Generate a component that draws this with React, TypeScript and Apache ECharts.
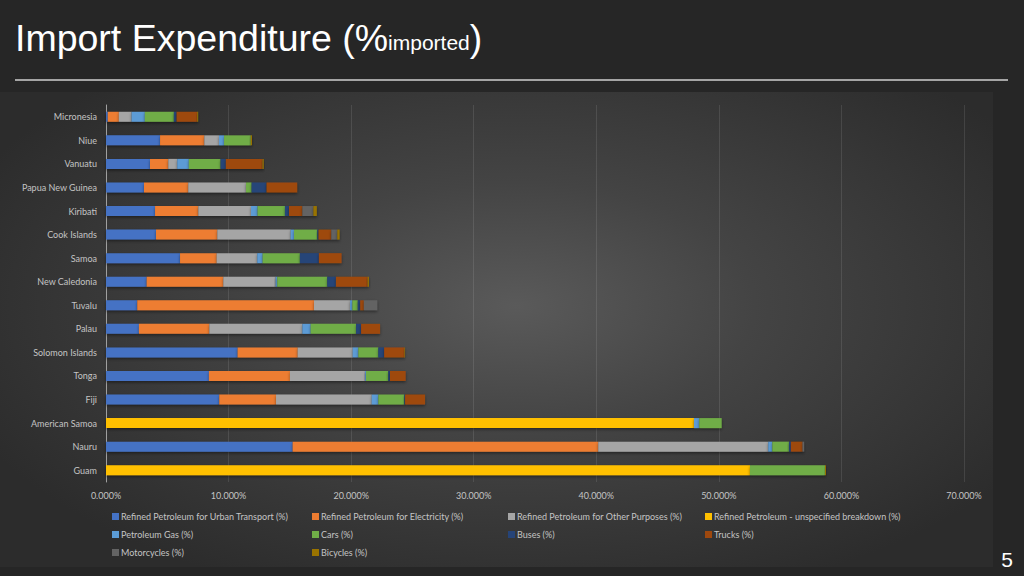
import React, { useEffect, useRef } from "react";
import * as echarts from "echarts";

const categories = [
  "Micronesia", "Niue", "Vanuatu", "Papua New Guinea", "Kiribati", "Cook Islands",
  "Samoa", "New Caledonia", "Tuvalu", "Palau", "Solomon Islands", "Tonga", "Fiji",
  "American Samoa", "Nauru", "Guam",
];

const urbanTransport = [0.15, 4.41, 3.59, 3.10, 4.00, 4.08, 6.04, 3.32, 2.55, 2.69, 10.74, 8.40, 9.24, 0, 15.23, 0];
const electricity = [0.90, 3.61, 1.49, 3.61, 3.53, 5.00, 2.99, 6.25, 14.42, 5.74, 4.90, 6.61, 4.63, 0, 24.93, 0];
const otherPurposes = [1.04, 1.20, 0.73, 4.71, 4.30, 5.99, 3.31, 4.27, 2.94, 7.59, 4.49, 6.12, 7.81, 0, 13.87, 0];
const unspecified = [0, 0, 0, 0, 0, 0, 0, 0, 0, 0, 0, 0, 0, 47.97, 0, 52.54];
const petroleumGas = [1.08, 0.41, 0.95, 0, 0.54, 0.27, 0.44, 0.13, 0.19, 0.68, 0.46, 0.08, 0.54, 0.43, 0.33, 0];
const cars = [2.37, 2.18, 2.59, 0.46, 2.23, 1.90, 3.04, 4.08, 0.44, 3.70, 1.63, 1.82, 2.12, 1.83, 1.36, 6.12];
const buses = [0.22, 0, 0.43, 1.22, 0.33, 0.10, 1.55, 0.71, 0.20, 0.41, 0.47, 0.14, 0.06, 0, 0.16, 0];
const trucks = [1.68, 0, 2.99, 2.50, 1.09, 1.04, 1.85, 2.59, 0.30, 1.55, 1.66, 1.28, 1.63, 0, 0.95, 0];
const motorcycles = [0, 0, 0, 0, 0.90, 0.49, 0, 0, 1.09, 0, 0, 0, 0, 0, 0.13, 0];
const bicycles = [0.08, 0.10, 0.10, 0, 0.28, 0.19, 0, 0.10, 0, 0, 0.05, 0, 0, 0, 0, 0.08];

const seriesNames = [
  "Refined Petroleum for Urban Transport (%)",
  "Refined Petroleum for Electricity (%)",
  "Refined Petroleum for Other Purposes (%)",
  "Refined Petroleum - unspecified breakdown (%)",
  "Petroleum Gas (%)",
  "Cars (%)",
  "Buses (%)",
  "Trucks (%)",
  "Motorcycles (%)",
  "Bicycles (%)",
];
const seriesData = [
  urbanTransport, electricity, otherPurposes, unspecified, petroleumGas,
  cars, buses, trucks, motorcycles, bicycles,
];
const seriesColors = [
  "#4472C4", "#ED7D31", "#A5A5A5", "#FFC000", "#5B9BD5",
  "#70AD47", "#264478", "#9E480E", "#636363", "#997300",
];

const FONT = "Lato, 'Open Sans', sans-serif";
const TITLE_FONT = "'Liberation Sans', Arial, sans-serif";
const LABEL_COLOR = "#c4c4c4";

export default function App() {
  const ref = useRef<HTMLDivElement>(null);

  useEffect(() => {
    if (!ref.current) return;
    const chart = echarts.init(ref.current, undefined, { renderer: "svg" });

    const legendCols = [
      { left: 112, idx: [0, 4, 8] },
      { left: 312, idx: [1, 5, 9] },
      { left: 508, idx: [2, 6] },
      { left: 705, idx: [3, 7] },
    ];

    const option: any = {
      animation: false,
      backgroundColor: "transparent",
      title: {
        left: 15,
        top: 19,
        padding: 0,
        text: "{a|Import Expenditure (%}{b|imported}{a|)}",
        textStyle: {
          rich: {
            a: { fontSize: 37.5, color: "#ffffff", fontFamily: TITLE_FONT, fontWeight: "normal" },
            b: {
              fontSize: 21,
              color: "#ffffff",
              fontFamily: TITLE_FONT,
              fontWeight: "normal",
              verticalAlign: "bottom",
              padding: [0, 0, 4, 0],
            },
          },
        },
      },
      graphic: [
        {
          type: "line",
          shape: { x1: 15, y1: 80, x2: 1008, y2: 80 },
          style: { stroke: "#d0d0d0", lineWidth: 1.5 },
        },
        {
          type: "text",
          right: 11,
          top: 549,
          style: { text: "5", fill: "#ffffff", fontSize: 21, fontFamily: TITLE_FONT },
        },
      ],
      legend: legendCols.map((c) => ({
        orient: "vertical",
        left: c.left,
        top: 511,
        padding: 0,
        itemWidth: 7,
        itemHeight: 7,
        itemGap: 7,
        icon: "rect",
        data: c.idx.map((i) => seriesNames[i]),
        textStyle: { color: LABEL_COLOR, fontSize: 9, fontFamily: FONT, lineHeight: 11, padding: [0, 0, 0, -3] },
        selectedMode: false,
      })),
      grid: { left: 106, right: 60, top: 105, bottom: 94, containLabel: false },
      xAxis: {
        type: "value",
        min: 0,
        max: 70,
        interval: 10,
        axisLine: { show: false },
        axisTick: { show: false },
        splitLine: { show: true, lineStyle: { color: "rgba(255,255,255,0.1)", width: 1 } },
        axisLabel: {
          color: LABEL_COLOR,
          fontSize: 9,
          fontFamily: FONT,
          margin: 9,
          formatter: (v: number) => v.toFixed(3) + "%",
        },
      },
      yAxis: {
        type: "category",
        data: categories,
        inverse: true,
        axisLine: { show: true, lineStyle: { color: "#a0a0a0", width: 1 } },
        axisTick: { show: false },
        axisLabel: { color: LABEL_COLOR, fontSize: 9, fontFamily: FONT, margin: 9 },
      },
      series: seriesNames.map((name, i) => ({
        name,
        type: "bar",
        stack: "total",
        barWidth: 10,
        data: seriesData[i],
        itemStyle: {
          color: seriesColors[i],
          shadowBlur: 3,
          shadowColor: "rgba(0,0,0,0.45)",
          shadowOffsetY: 1.5,
        },
      })),
    };

    chart.setOption(option);
    return () => chart.dispose();
  }, []);

  return (
    <div
      style={{
        position: "fixed",
        left: 0,
        top: 0,
        width: 1024,
        height: 576,
        background: "#262626",
        overflow: "hidden",
      }}
    >
      <div
        style={{
          position: "absolute",
          left: 0,
          top: 92,
          width: 993,
          height: 475,
          background: "radial-gradient(ellipse 60% 65% at 52% 45%, #5a5a5a 0%, #444444 40%, #2c2c2c 100%)",
        }}
      />
      <div ref={ref} style={{ position: "absolute", left: 0, top: 0, width: 1024, height: 576 }} />
    </div>
  );
}
